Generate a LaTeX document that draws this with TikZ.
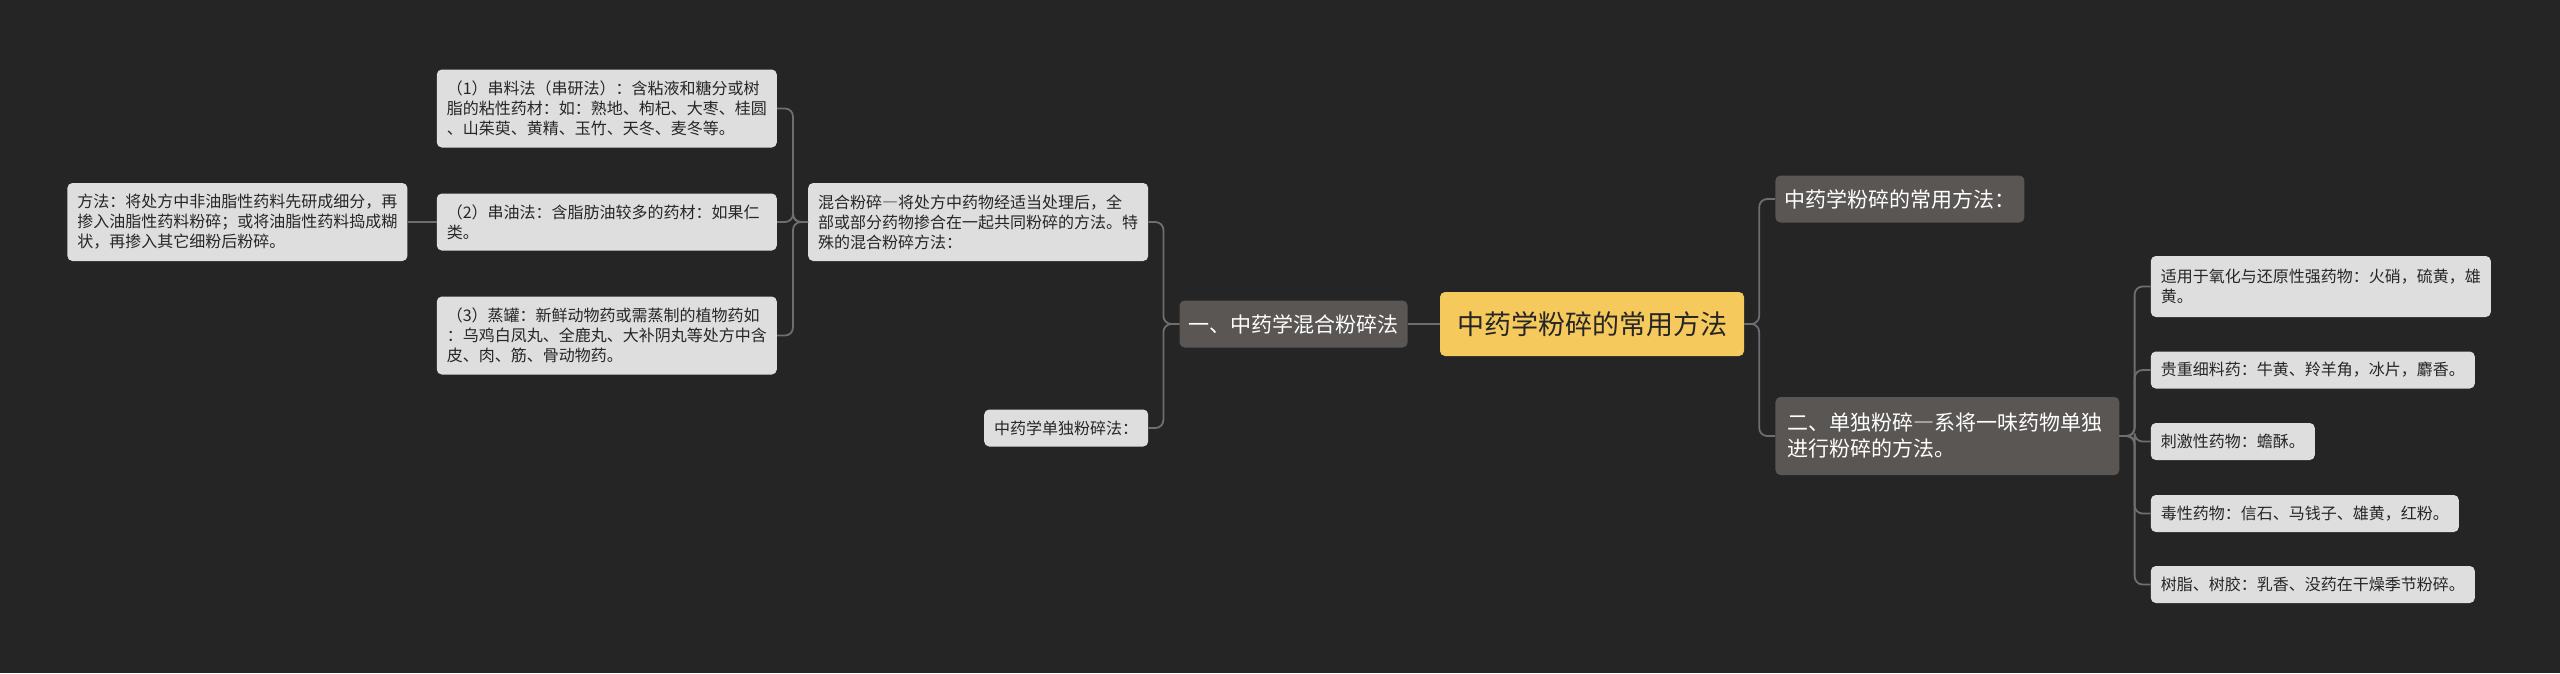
\documentclass[tikz,border=0pt]{standalone}
\usepackage{fontspec}
\setmainfont{Noto Sans CJK SC}
\usetikzlibrary{positioning}

\definecolor{canvas}{HTML}{252525}
\definecolor{wire}{HTML}{6E6E6E}
\definecolor{topicfill}{HTML}{F5C95B}
\definecolor{branchfill}{HTML}{5A5654}
\definecolor{leaffill}{HTML}{DEDEDE}
\definecolor{ink}{HTML}{262626}

\newcommand\fwdash{{\addfontfeature{RawFeature=+fwid}—}}

\tikzset{
  topic/.style = {fill = topicfill, text = ink, rounded corners = 5pt,
    font = \fontsize{27pt}{32pt}\selectfont, inner xsep = 17pt, minimum height = 64pt},
  branch/.style = {fill = branchfill, text = white, rounded corners = 5pt, align = left,
    font = \fontsize{21pt}{26pt}\selectfont, inner xsep = 9pt, inner ysep = 6pt, minimum height = 47pt},
  leaf/.style = {fill = leaffill, text = ink, rounded corners = 5pt, align = left,
    font = \fontsize{16pt}{20pt}\selectfont, inner xsep = 10pt, inner ysep = 6pt, minimum height = 37pt},
  link/.style = {draw = wire, line width = 1.8pt, rounded corners = 8pt},
}

\begin{document}
\begin{tikzpicture}
        \fill[canvas] (0,0) rectangle (2560pt,-673pt) ; %
        % centre and first level
        \node[topic] (root) at (1592pt,-324pt) {中药学粉碎的常用方法} ; %
        \node[branch, left = 32pt of root] (mix_b) {一、中药学混合粉碎法} ; %
        \node[branch, right = 31pt of root, yshift = 125pt] (com_b) {中药学粉碎的常用方法：} ; %
        \node[branch, right = 31pt of root, yshift = -112pt, text width = 320pt, minimum height = 78pt, inner xsep = 12pt] (sin_b) {二、单独粉碎\fwdash 系将一味药物单独\\进行粉碎的方法。} ; %
        % left side
        \node[leaf, left = 31pt of mix_b, yshift = 102pt, text width = 320pt, minimum height = 78pt] (mix_l) {混合粉碎\fwdash 将处方中药物经适当处理后，全\\部或部分药物掺合在一起共同粉碎的方法。特\\殊的混合粉碎方法：} ; %
        \node[leaf, left = 31pt of mix_b, yshift = -104pt] (sin_l) {中药学单独粉碎法：} ; %
        \node[leaf, left = 31pt of mix_l, yshift = 113.5pt, text width = 320pt, minimum height = 78pt] (way_1) {（1）串料法（串研法）：含粘液和糖分或树\\脂的粘性药材：如：熟地、枸杞、大枣、桂圆\\、山茱萸、黄精、玉竹、天冬、麦冬等。} ; %
        \node[leaf, left = 31pt of mix_l, text width = 320pt, minimum height = 57pt] (way_2) {（2）串油法：含脂肪油较多的药材：如果仁\\类。} ; %
        \node[leaf, left = 31pt of mix_l, yshift = -113.5pt, text width = 320pt, minimum height = 78pt] (way_3) {（3）蒸罐：新鲜动物药或需蒸制的植物药如\\：乌鸡白凤丸、全鹿丸、大补阴丸等处方中含\\皮、肉、筋、骨动物药。} ; %
        \node[leaf, left = 29pt of way_2, text width = 320pt, minimum height = 78pt] (way_2d) {方法：将处方中非油脂性药料先研成细分，再\\掺入油脂性药料粉碎；或将油脂性药料捣成糊\\状，再掺入其它细粉后粉碎。} ; %
        % right side
        \node[leaf, right = 31pt of sin_b, yshift = 149.5pt, text width = 320pt, minimum height = 61pt] (drug_1) {适用于氧化与还原性强药物：火硝，硫黄，雄\\黄。} ; %
        \node[leaf, right = 31pt of sin_b, yshift = 66pt] (drug_2) {贵重细料药：牛黄、羚羊角，冰片，麝香。} ; %
        \node[leaf, right = 31pt of sin_b, yshift = -5.5pt] (drug_3) {刺激性药物：蟾酥。} ; %
        \node[leaf, right = 31pt of sin_b, yshift = -77.5pt] (drug_4) {毒性药物：信石、马钱子、雄黄，红粉。} ; %
        \node[leaf, right = 31pt of sin_b, yshift = -148.5pt] (drug_5) {树脂、树胶：乳香、没药在干燥季节粉碎。} ; %
        %
        \draw[link] (root.west) -- (mix_b.east) ; %
        \draw[link] (root.east) -- ++(15pt,0) |- (com_b.west) ; %
        \draw[link] (root.east) -- ++(15pt,0) |- (sin_b.west) ; %
        \draw[link] (mix_b.west) -- ++(-16pt,0) |- (mix_l.east) ; %
        \draw[link] (mix_b.west) -- ++(-16pt,0) |- (sin_l.east) ; %
        \draw[link] (mix_l.west) -- ++(-15pt,0) |- (way_1.east) ; %
        \draw[link] (mix_l.west) -- ++(-15pt,0) |- (way_2.east) ; %
        \draw[link] (mix_l.west) -- ++(-15pt,0) |- (way_3.east) ; %
        \draw[link] (way_2.west) -- (way_2d.east) ; %
        \draw[link] (sin_b.east) -- ++(15pt,0) |- (drug_1.west) ; %
        \draw[link] (sin_b.east) -- ++(15pt,0) |- (drug_2.west) ; %
        \draw[link] (sin_b.east) -- ++(15pt,0) |- (drug_3.west) ; %
        \draw[link] (sin_b.east) -- ++(15pt,0) |- (drug_4.west) ; %
        \draw[link] (sin_b.east) -- ++(15pt,0) |- (drug_5.west) ; %
\end{tikzpicture}
\end{document}
